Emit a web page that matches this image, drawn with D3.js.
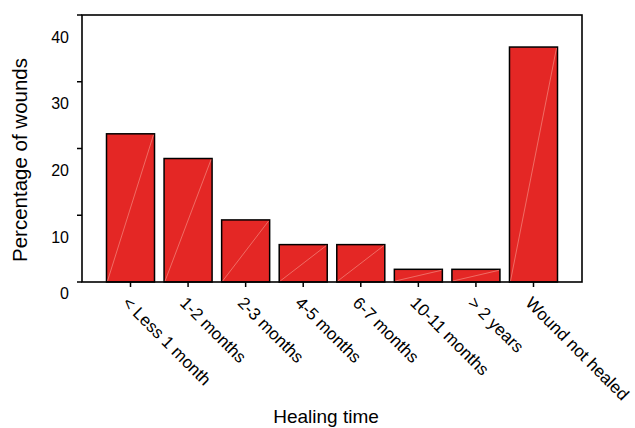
<!DOCTYPE html>
<html>
<head>
<meta charset="utf-8">
<script src="https://cdn.jsdelivr.net/npm/d3@7/dist/d3.min.js"></script>
<style>
html,body{margin:0;padding:0;background:#fff;}
text{font-family:"Liberation Sans",Arial,sans-serif;fill:#000;}
</style>
</head>
<body>
<svg id="chart" width="635" height="428"></svg>
<script>
const categories = ["< Less 1 month","1-2 months","2-3 months","4-5 months","6-7 months","10-11 months","> 2 years","Wound not healed"];
const percentages = [22.2, 18.5, 9.3, 5.6, 5.6, 1.9, 1.9, 35.2];
const yTicks = [0, 10, 20, 30, 40];
const xTitle = "Healing time";
const yTitle = "Percentage of wounds";

const svg = d3.select("#chart");
const L = 82, R = 582, T = 15, B = 282;

const x = d3.scaleBand().domain(categories).range([106.5, 557.5]).paddingInner(0.166).paddingOuter(0);
const y = d3.scaleLinear().domain([0, 40]).range([B, T]);

// bars
const bars = svg.append("g");
categories.forEach((c, i) => {
  const x0 = x(c), w = x.bandwidth(), y0 = y(percentages[i]);
  bars.append("rect").attr("x", x0).attr("y", y0).attr("width", w).attr("height", B - y0)
    .attr("fill", "#e42725").attr("stroke", "#000").attr("stroke-width", 1.5);
  bars.append("line").attr("x1", x0 + 1).attr("y1", B - 1).attr("x2", x0 + w - 1).attr("y2", y0 + 1)
    .attr("stroke", "#f48a80").attr("stroke-width", 0.7);
});

// frame
svg.append("rect").attr("x", L).attr("y", T).attr("width", R - L).attr("height", B - T)
  .attr("fill", "none").attr("stroke", "#000").attr("stroke-width", 1.6);

// y axis ticks
const yAxis = svg.append("g");
yTicks.forEach(v => {
  yAxis.append("line").attr("x1", L - 5).attr("x2", L).attr("y1", y(v)).attr("y2", y(v))
    .attr("stroke", "#000").attr("stroke-width", 1.5);
  yAxis.append("text").attr("x", 69).attr("y", y(v) + (v === 0 ? 11 : 22))
    .attr("text-anchor", "end").attr("dominant-baseline", "central")
    .attr("font-size", 16).text(v);
});

// x axis ticks & labels
const xAxis = svg.append("g");
categories.forEach(c => {
  const cx = x(c) + x.bandwidth() / 2;
  xAxis.append("line").attr("x1", cx).attr("x2", cx).attr("y1", B).attr("y2", B + 5)
    .attr("stroke", "#000").attr("stroke-width", 1.5);
  xAxis.append("text").attr("transform", `translate(${cx - 9},${304}) rotate(45)`)
    .attr("font-size", 17).text(c);
});

svg.append("text").attr("x", 326).attr("y", 423).attr("text-anchor", "middle")
  .attr("font-size", 19).text(xTitle);
svg.append("text").attr("transform", "translate(27,160) rotate(-90)").attr("text-anchor", "middle")
  .attr("font-size", 20.5).text(yTitle);
</script>
</body>
</html>
